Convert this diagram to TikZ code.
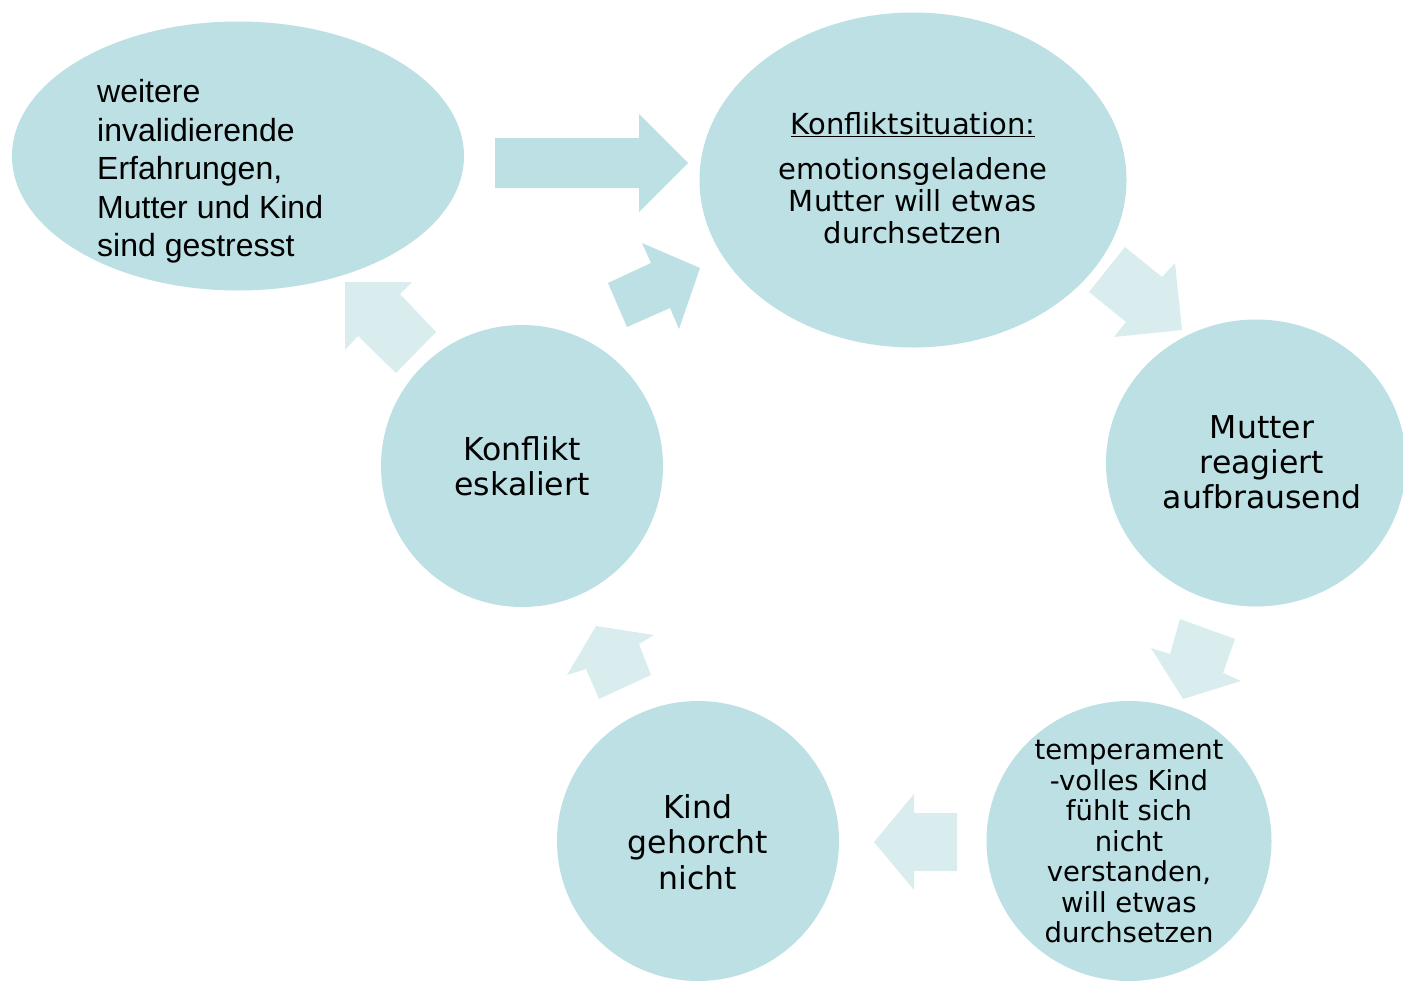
\documentclass[tikz,border=0pt]{standalone}
\usepackage{fontspec}
\setmainfont{DejaVu Sans}
\newfontfamily\arialfont{Liberation Sans}
\usepackage{xcolor}
\usepackage{tikz}
\usetikzlibrary{shapes.geometric}

\definecolor{bubblefill}{RGB}{188,224,228}
\definecolor{arrowfill}{RGB}{217,236,238}

\tikzset{
	bubble/.style = {ellipse, fill = bubblefill, inner sep = 0pt, outer sep = 0pt},
	bubbletext/.style = {align = center, inner sep = 0pt},
	darkarrow/.style = {fill = bubblefill},
	lightarrow/.style = {fill = arrowfill}
}

\begin{document}
\begin{tikzpicture}[x = 1pt, y = -1pt]
	\useasboundingbox (0,0) rectangle (1403,980);
	\clip (0,0) rectangle (1403,980);

	% bubbles
	\node [bubble, minimum width = 452, minimum height = 269] (stress) at (238,156) {};
	\node [bubble, minimum width = 427, minimum height = 335] (situation) at (913,180) {};
	\foreach \name/\x/\y/\w/\h in {reacts/1256/463/300/287, escalates/522/466/282/282, disobeys/698/841/282/280, child/1129/841/285/280}
	{
		\node [bubble, minimum width = \w, minimum height = \h] (\name) at (\x,\y) {};
	}

	% texts
	\node [bubbletext, align = left, anchor = west, font = \arialfont\fontsize{32}{38.5}\selectfont] (stresstext) at (97,171.5)
		{weitere\\invalidierende\\Erfahrungen,\\Mutter und Kind\\sind gestresst};
	\node [bubbletext, font = \fontsize{29}{32}\selectfont] (situationtext) at (913,178)
		{\underline{Konfliktsituation:}\\[13pt]emotionsgeladene\\Mutter will etwas\\durchsetzen};
	\node [bubbletext, font = \fontsize{31.5}{35}\selectfont] (reactstext) at (1262,462) {Mutter\\reagiert\\aufbrausend};
	\node [bubbletext, font = \fontsize{31.5}{35}\selectfont] (escalatestext) at (522,466) {Konflikt\\eskaliert};
	\node [bubbletext, font = \fontsize{31.5}{35.5}\selectfont] (disobeystext) at (698,842) {Kind\\gehorcht\\nicht};
	\node [bubbletext, font = \fontsize{27.5}{30.5}\selectfont] (childtext) at (1129,842)
		{temperament\\-volles Kind\\fühlt sich\\nicht\\verstanden,\\will etwas\\durchsetzen};

	% block arrows
	\fill [darkarrow] (495,138) -- (639,138) -- (639,114) -- (688,163) -- (639,212) -- (639,188) -- (495,188) -- cycle;
	\fill [darkarrow] (608,283) -- (651,263) -- (642,243) -- (700,268) -- (679,329) -- (670,308) -- (627,327) -- cycle;
	\fill [lightarrow] (1089,292) -- (1125,247) -- (1162,277) -- (1175,263) -- (1182,330) -- (1114,337) -- (1126,322) -- cycle;
	\fill [lightarrow] (1180,619) -- (1235,639) -- (1223,673) -- (1241,681) -- (1183,699) -- (1151,648) -- (1170,654) -- cycle;
	\fill [lightarrow] (957,813) -- (914,813) -- (914,794) -- (874,842) -- (914,890) -- (914,871) -- (957,871) -- cycle;
	\fill [lightarrow] (596,626) -- (654,635) -- (639,644) -- (651,675) -- (599,699) -- (586,669) -- (567,675) -- cycle;
	\fill [lightarrow] (345,282) -- (412,282) -- (400,294) -- (436,332) -- (396,373) -- (358,336) -- (345,350) -- cycle;
\end{tikzpicture}
\end{document}
